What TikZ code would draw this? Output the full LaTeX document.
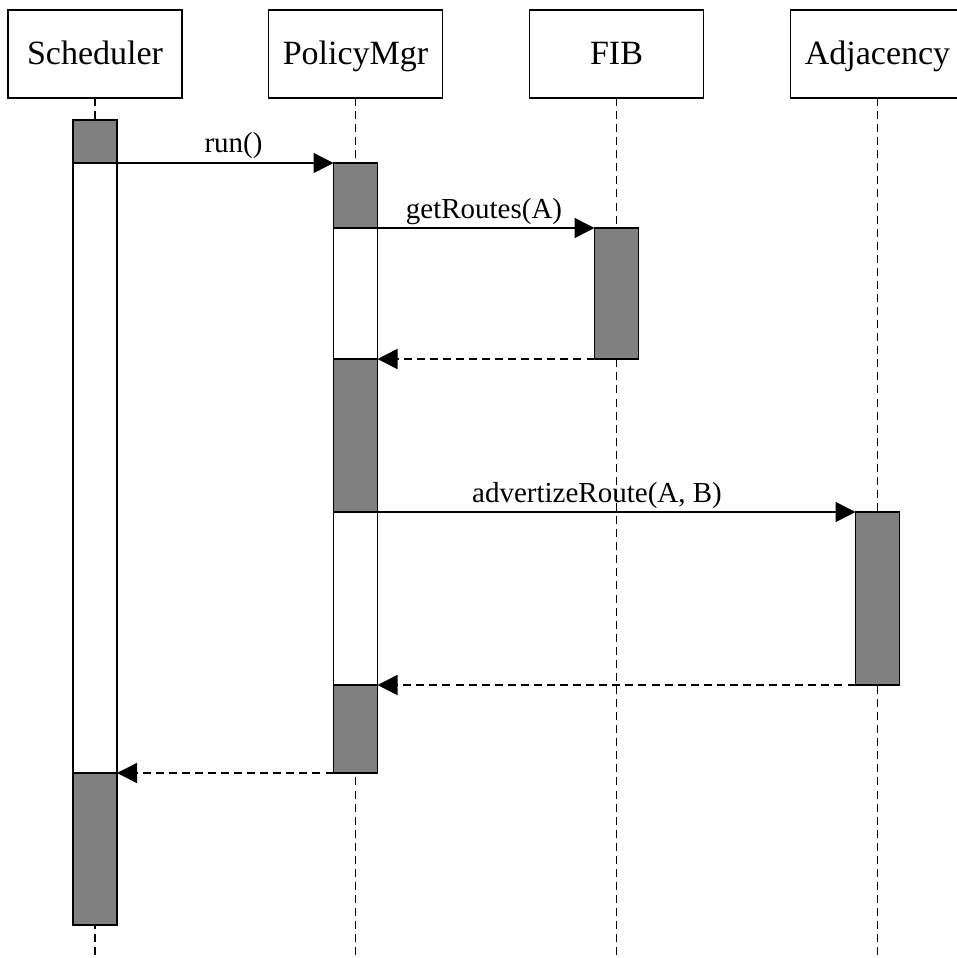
\documentclass[tikz,border=0pt]{standalone}
\usepackage{fontspec}
\setmainfont{Liberation Serif}
\usetikzlibrary{arrows.meta}

\definecolor{actgray}{HTML}{808080}

\tikzset{
  header/.style={draw, line width=1.1pt, fill=white, minimum width=130.5pt,
    minimum height=66pt, inner sep=0pt, outer sep=0pt, anchor=north,
    text height=20pt, text depth=4pt,
    font=\fontsize{25.5}{30}\selectfont},
  lifeline/.style={line width=1.3pt, dash pattern=on 6pt off 3.8pt},
  bar/.style={draw, line width=1.1pt, minimum width=33pt, inner sep=0pt,
    outer sep=0pt, anchor=north},
  busy/.style={bar, fill=actgray},
  idle/.style={bar, fill=white},
  call/.style={line width=1.1pt, -{Triangle[length=15pt,width=15pt]}},
  reply/.style={call, dash pattern=on 6pt off 3.8pt},
  lbl/.style={anchor=base, inner sep=0pt, font=\fontsize{21.75}{26}\selectfont}
}

\begin{document}
\begin{tikzpicture}[x=0.75pt, y=-0.75pt]
\useasboundingbox (0,0) rectangle (957,958);

% participants
\node[header] (sch) at (95,10)    {Scheduler};
\node[header] (pm)  at (355.5,10) {PolicyMgr};
\node[header] (fib) at (616.5,10) {FIB};
\node[header] (adj) at (877.5,10) {Adjacency};

% lifeline ends
\coordinate (schEnd) at (95,960);
\coordinate (pmEnd)  at (355.5,960);
\coordinate (fibEnd) at (616.5,960);
\coordinate (adjEnd) at (877.5,960);

\draw[lifeline] (sch.south) -- (schEnd);
\draw[lifeline] (pm.south)  -- (pmEnd);
\draw[lifeline] (fib.south) -- (fibEnd);
\draw[lifeline] (adj.south) -- (adjEnd);

% activation bars: Scheduler
\node[busy, minimum height=32.25pt] (s1) at (95,120) {};
\node[idle, minimum height=457.5pt] (s2) at (95,163) {};
\node[busy, minimum height=114pt]   (s3) at (95,773) {};

% activation bars: PolicyMgr
\node[busy, minimum height=48.75pt]  (p1) at (355.5,163) {};
\node[idle, minimum height=98.25pt]  (p2) at (355.5,228) {};
\node[busy, minimum height=114.75pt] (p3) at (355.5,359) {};
\node[idle, minimum height=129.75pt] (p4) at (355.5,512) {};
\node[busy, minimum height=66pt]     (p5) at (355.5,685) {};

% activation bars: FIB and Adjacency
\node[busy, minimum height=98.25pt]  (f1) at (616.5,228) {};
\node[busy, minimum height=129.75pt] (a1) at (877.5,512) {};

% messages
\draw[call]  (s1.south east) -- (p1.north west);
\draw[call]  (p2.north east) -- (f1.north west);
\draw[reply] (f1.south west) -- (p3.north east);
\draw[call]  (p4.north east) -- (a1.north west);
\draw[reply] (a1.south west) -- (p5.north east);
\draw[reply] (p5.south west) -- (s3.north east);

% message labels
\node[lbl] (lrun) at (233.5,152) {run()};
\node[lbl] (lget) at (484,218)   {getRoutes(A)};
\node[lbl] (ladv) at (597,502)   {advertizeRoute(A, B)};
\end{tikzpicture}
\end{document}
